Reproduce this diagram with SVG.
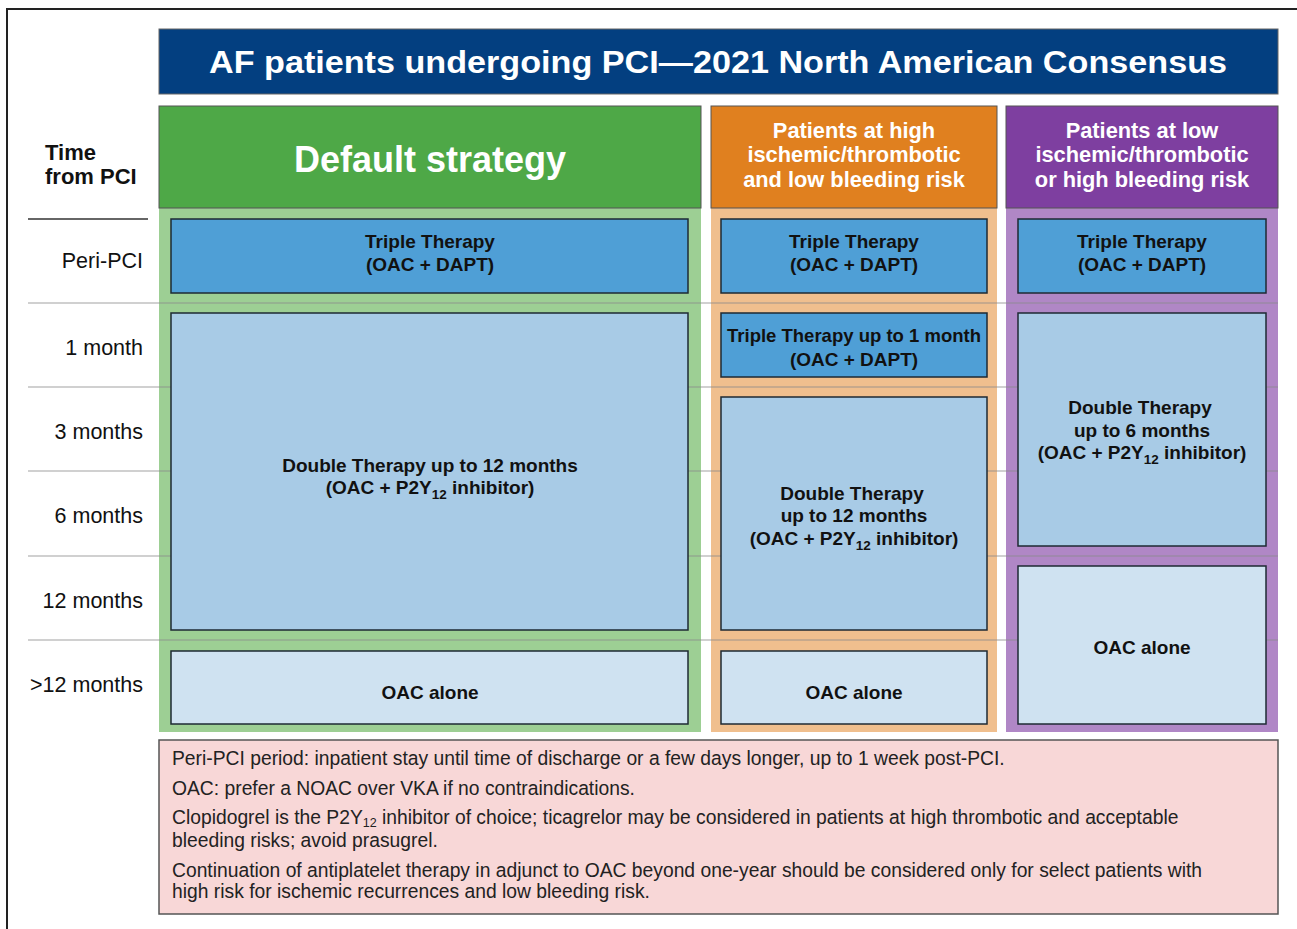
<svg xmlns="http://www.w3.org/2000/svg" width="1297" height="929" viewBox="0 0 1297 929">
<style>
.t{font-family:"Liberation Sans",Arial,sans-serif;}
.wb{font-family:"Liberation Sans",Arial,sans-serif;font-weight:bold;fill:#fff;text-anchor:middle;}
.bx{font-family:"Liberation Sans",Arial,sans-serif;font-weight:bold;fill:#111;text-anchor:middle;font-size:19px;}
.rl{font-family:"Liberation Sans",Arial,sans-serif;fill:#111;text-anchor:end;font-size:21.5px;}
.ft{font-family:"Liberation Sans",Arial,sans-serif;fill:#222;font-size:19.3px;}
.tri{fill:#4f9fd6;stroke:#1e2a33;stroke-width:1.5;}
.dbl{fill:#a8cbe6;stroke:#1e2a33;stroke-width:1.5;}
.oac{fill:#cfe2f1;stroke:#1e2a33;stroke-width:1.5;}
.grid{stroke:#8a8a8a;stroke-opacity:0.4;stroke-width:2;}
</style>
<rect x="0" y="0" width="1297" height="929" fill="#fff"/>
<rect x="7" y="9" width="1320" height="960" fill="none" stroke="#222" stroke-width="2"/>

<g id="title">
<rect x="159" y="29" width="1119" height="65" fill="#033f80" stroke="#666" stroke-width="1"/>
<text class="wb" x="718" y="73" font-size="31" textLength="1018" lengthAdjust="spacingAndGlyphs">AF patients undergoing PCI—2021 North American Consensus</text>
</g>

<g id="col-default">
<rect x="159" y="208" width="542" height="524" fill="#9dcf94"/>
<rect x="159" y="106" width="542" height="102" fill="#4ea847" stroke="#555" stroke-width="1"/>
<text class="wb" x="430" y="172" font-size="36">Default strategy</text>
</g>
<g id="col-high">
<rect x="711" y="208" width="286" height="524" fill="#f0bf8e"/>
<rect x="711" y="106" width="286" height="102" fill="#e0801f" stroke="#555" stroke-width="1"/>
<text class="wb" font-size="21.8"><tspan x="854" y="138">Patients at high</tspan><tspan x="854" y="162">ischemic/thrombotic</tspan><tspan x="854" y="187">and low bleeding risk</tspan></text>
</g>
<g id="col-low">
<rect x="1006" y="208" width="272" height="524" fill="#b087c6"/>
<rect x="1006" y="106" width="272" height="102" fill="#7e3fa0" stroke="#555" stroke-width="1"/>
<text class="wb" font-size="21.8"><tspan x="1142" y="138">Patients at low</tspan><tspan x="1142" y="162">ischemic/thrombotic</tspan><tspan x="1142" y="187">or high bleeding risk</tspan></text>
</g>

<g id="rows">
<text class="t" font-weight="bold" font-size="22" fill="#111"><tspan x="45" y="160">Time</tspan><tspan x="45" y="184">from PCI</tspan></text>
<line x1="28" y1="219" x2="148" y2="219" stroke="#333" stroke-width="1.5"/>
<text class="rl" x="143" y="268">Peri-PCI</text>
<text class="rl" x="143" y="355">1 month</text>
<text class="rl" x="143" y="439">3 months</text>
<text class="rl" x="143" y="523">6 months</text>
<text class="rl" x="143" y="608">12 months</text>
<text class="rl" x="143" y="692">&gt;12 months</text>
</g>

<g id="gridlines">
<line class="grid" x1="28" y1="303" x2="1278" y2="303"/>
<line class="grid" x1="28" y1="387" x2="1278" y2="387"/>
<line class="grid" x1="28" y1="471" x2="1278" y2="471"/>
<line class="grid" x1="28" y1="556" x2="1278" y2="556"/>
<line class="grid" x1="28" y1="640" x2="1278" y2="640"/>
</g>

<g id="default-triple">
<rect class="tri" x="171" y="219" width="517" height="74"/>
<text class="bx"><tspan x="430" y="248">Triple Therapy</tspan><tspan x="430" y="271">(OAC + DAPT)</tspan></text>
</g>
<g id="default-double">
<rect class="dbl" x="171" y="313" width="517" height="317"/>
<text class="bx"><tspan x="430" y="472">Double Therapy up to 12 months</tspan><tspan x="430" y="494">(OAC + P2Y<tspan font-size="13.5" dy="5">12</tspan><tspan dy="-5"> inhibitor)</tspan></tspan></text>
</g>
<g id="default-oac">
<rect class="oac" x="171" y="651" width="517" height="73"/>
<text class="bx" x="430" y="699">OAC alone</text>
</g>

<g id="high-triple">
<rect class="tri" x="721" y="219" width="266" height="74"/>
<text class="bx"><tspan x="854" y="248">Triple Therapy</tspan><tspan x="854" y="271">(OAC + DAPT)</tspan></text>
</g>
<g id="high-triple1">
<rect class="tri" x="721" y="313" width="266" height="64"/>
<text class="bx"><tspan x="854" y="342" textLength="254" lengthAdjust="spacingAndGlyphs">Triple Therapy up to 1 month</tspan><tspan x="854" y="366">(OAC + DAPT)</tspan></text>
</g>
<g id="high-double">
<rect class="dbl" x="721" y="397" width="266" height="233"/>
<text class="bx"><tspan x="852" y="500">Double Therapy</tspan><tspan x="854" y="522">up to 12 months</tspan><tspan x="854" y="545">(OAC + P2Y<tspan font-size="13.5" dy="5">12</tspan><tspan dy="-5"> inhibitor)</tspan></tspan></text>
</g>
<g id="high-oac">
<rect class="oac" x="721" y="651" width="266" height="73"/>
<text class="bx" x="854" y="699">OAC alone</text>
</g>

<g id="low-triple">
<rect class="tri" x="1018" y="219" width="248" height="74"/>
<text class="bx"><tspan x="1142" y="248">Triple Therapy</tspan><tspan x="1142" y="271">(OAC + DAPT)</tspan></text>
</g>
<g id="low-double">
<rect class="dbl" x="1018" y="313" width="248" height="233"/>
<text class="bx"><tspan x="1140" y="414">Double Therapy</tspan><tspan x="1142" y="437">up to 6 months</tspan><tspan x="1142" y="459">(OAC + P2Y<tspan font-size="13.5" dy="5">12</tspan><tspan dy="-5"> inhibitor)</tspan></tspan></text>
</g>
<g id="low-oac">
<rect class="oac" x="1018" y="566" width="248" height="158"/>
<text class="bx" x="1142" y="654">OAC alone</text>
</g>

<g id="footnotes">
<rect x="159" y="740" width="1119" height="174" fill="#f8d7d7" stroke="#555" stroke-width="1.5"/>
<text class="ft" x="172" y="765">Peri-PCI period: inpatient stay until time of discharge or a few days longer, up to 1 week post-PCI.</text>
<text class="ft" x="172" y="795">OAC: prefer a NOAC over VKA if no contraindications.</text>
<text class="ft" x="172" y="824">Clopidogrel is the P2Y<tspan font-size="12.5" dy="3">12</tspan><tspan dy="-3"> inhibitor of choice; ticagrelor may be considered in patients at high thrombotic and acceptable</tspan></text>
<text class="ft" x="172" y="847">bleeding risks; avoid prasugrel.</text>
<text class="ft"><tspan x="172" y="877">Continuation of antiplatelet therapy in adjunct to OAC beyond one-year should be considered only for select patients with</tspan><tspan x="172" y="898">high risk for ischemic recurrences and low bleeding risk.</tspan></text>
</g>
</svg>
